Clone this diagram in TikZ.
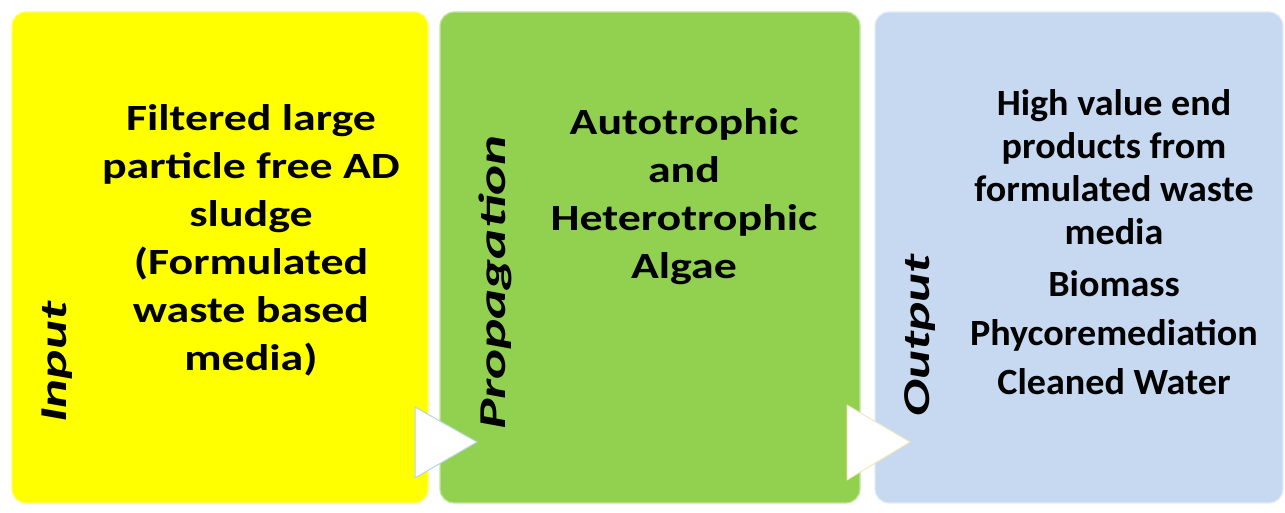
\documentclass[tikz,border=0pt]{standalone}
\usepackage{fontspec}
\setmainfont{Carlito}
\newfontfamily\widefont{Carlito}[FakeStretch=1.24]
\newfontfamily\outfont{Carlito}[FakeStretch=1.03]
\usepackage{graphicx}
\definecolor{inyellow}{HTML}{FFFF00}
\definecolor{propgreen}{HTML}{92D050}
\definecolor{outblue}{HTML}{C6D9F1}
\definecolor{arrowblue}{HTML}{B8D4E0}
\definecolor{arrowcream}{HTML}{F2E8C0}
\tikzset{
  panel/.style={rounded corners=14pt, line width=1.2pt},
  bodytext/.style={font=\widefont\fontsize{37}{48}\selectfont\bfseries, align=center, text=black},
  sidelabel/.style={font=\fontsize{38}{44}\selectfont\bfseries\itshape, rotate=90, anchor=west, inner sep=0pt, text=black},
  flowarrow/.style={fill=white, line width=1pt, line join=round}
}
\begin{document}
\begin{tikzpicture}[x=1pt,y=1pt]
\useasboundingbox (0,0) rectangle (1285,513);
\fill[white] (0,0) rectangle (1285,513);
% panels
\path[panel, fill=inyellow, draw=inyellow!60!white] (12,10) rectangle (428,501);
\path[panel, fill=propgreen, draw=propgreen!55!white] (440,10) rectangle (860,501);
\path[panel, fill=outblue, draw=outblue!50!white] (875,10) rectangle (1283,501);
% body texts
\node[bodytext] (t1) at (251,273) {Filtered large\\particle free AD\\sludge\\(Formulated\\waste based\\media)};
\node[bodytext] (t2) at (684,316) {Autotrophic\\and\\Heterotrophic\\Algae};
\node[bodytext, font=\outfont\fontsize{37}{43}\selectfont\bfseries] (t3) at (1114,271) {High value end\\products from\\formulated waste\\media\\[9pt]Biomass\\[6pt]Phycoremediation\\[6pt]Cleaned Water};
% side labels
\node[sidelabel] (l1) at (57,90) {\scalebox{1.45}[1]{Input}};
\node[sidelabel] (l2) at (495,83) {\scalebox{1.5}[1]{Propagation}};
\node[sidelabel] (l3) at (920,96) {\scalebox{1.45}[1]{Output}};
% arrows
\draw[flowarrow, draw=arrowblue] (415,106) -- (477,71) -- (415,35) -- cycle;
\draw[flowarrow, draw=arrowcream] (847,108) -- (910,71) -- (847,33) -- cycle;
\end{tikzpicture}
\end{document}
